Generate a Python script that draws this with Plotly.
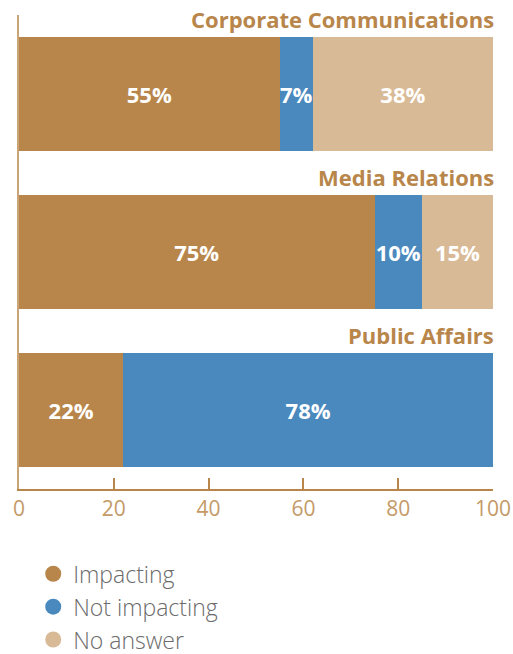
import plotly.graph_objects as go

categories = ["Corporate Communications", "Media Relations", "Public Affairs"]
impacting = [55, 75, 22]
not_impacting = [7, 10, 78]
no_answer = [38, 15, 0]
series_names = ["Impacting", "Not impacting", "No answer"]
colors = ["#B8864A", "#4A89BE", "#D9BA96"]
tick_vals = [0, 20, 40, 60, 80, 100]

fig = go.Figure()
for name, vals, col in zip(series_names, [impacting, not_impacting, no_answer], colors):
    fig.add_trace(go.Bar(
        y=categories, x=vals, orientation="h", name=name,
        marker=dict(color=col, line=dict(width=0)),
        text=[f"{v}%" if v > 0 else "" for v in vals],
        textposition="inside", insidetextanchor="middle",
        constraintext="none", textangle=0,
        textfont=dict(color="white", size=22, family="Open Sans", weight="bold"),
        showlegend=False, hoverinfo="skip",
    ))
for name, col in zip(series_names, colors):
    fig.add_trace(go.Scatter(
        x=[None], y=[None], mode="markers", name=name,
        marker=dict(color=col, size=19, symbol="circle"),
        showlegend=True, hoverinfo="skip",
    ))

for cat in categories:
    fig.add_annotation(
        x=100, y=cat, xref="x", yref="y", text=f"<b>{cat}</b>",
        showarrow=False, xanchor="right", yanchor="bottom", yshift=58, xshift=3,
        font=dict(size=22, color="#B8864A", family="Open Sans"),
    )

fig.update_layout(
    barmode="stack", bargap=0.28,
    width=513, height=654,
    margin=dict(l=19, r=20, t=15, b=165, autoexpand=False),
    plot_bgcolor="white", paper_bgcolor="white",
    xaxis=dict(range=[0, 100], tickvals=tick_vals, showgrid=False, zeroline=False,
               showline=True, linecolor="#B8864A", linewidth=2, automargin=False,
               ticks="inside", ticklen=11, tickwidth=2, tickcolor="#B8864A",
               tickfont=dict(size=21, color="#C49A68", family="Open Sans")),
    yaxis=dict(type="category", categoryorder="array", categoryarray=categories,
               range=[2.5, -0.5], showticklabels=False, showgrid=False, automargin=False,
               zeroline=False, showline=True, linecolor="#C8A477", linewidth=2),
    legend=dict(x=0.030, y=-0.1335, xanchor="left", yanchor="top", traceorder="normal",
                font=dict(size=23, color="#6B6B6B", family="Open Sans", weight=300),
                itemsizing="trace", tracegroupgap=0),
)

fig.write_html("out.html", config={"displayModeBar": False},
               post_script="document.body.style.margin='0';document.body.style.overflow='hidden';")
